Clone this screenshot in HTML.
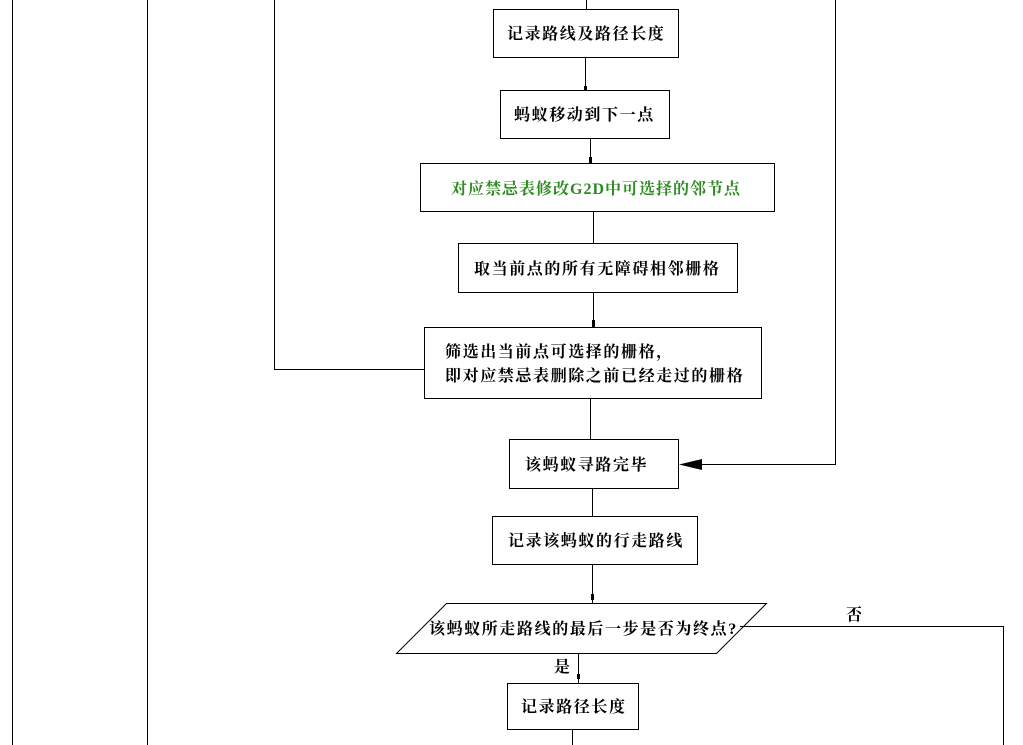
<!DOCTYPE html>
<html><head><meta charset="utf-8"><style>
html,body{margin:0;padding:0;background:#fff;}
svg{display:block}
text{font-family:"Liberation Serif","Noto Serif CJK SC","Noto Sans CJK SC",serif;font-size:16px;font-weight:bold;fill:#000;letter-spacing:1.6px}
</style></head><body>
<svg width="1023" height="745" viewBox="0 0 1023 745" xmlns="http://www.w3.org/2000/svg">
<g stroke="#000" stroke-width="1" fill="none">
<line x1="12.5" y1="0" x2="12.5" y2="745"/>
<line x1="147.5" y1="0" x2="147.5" y2="745"/>
<polyline points="424,369.5 274.5,369.5 274.5,0"/>
<polyline points="835.5,0 835.5,464.5 700,464.5"/>
<line x1="586.5" y1="0" x2="586.5" y2="9"/>
<line x1="585.5" y1="57" x2="585.5" y2="90"/>
<line x1="590.5" y1="138" x2="590.5" y2="163"/>
<line x1="593.5" y1="211" x2="593.5" y2="243"/>
<line x1="593.5" y1="292" x2="593.5" y2="327"/>
<line x1="590.5" y1="398" x2="590.5" y2="439"/>
<line x1="592.5" y1="488" x2="592.5" y2="516"/>
<line x1="592.5" y1="564" x2="592.5" y2="603"/>
<line x1="578.5" y1="653" x2="578.5" y2="683"/>
<line x1="572.5" y1="729" x2="572.5" y2="745"/>
<polyline points="740,626.5 1003.5,626.5 1003.5,745"/>
<rect x="493.5" y="9.5" width="185" height="48"/>
<rect x="500.5" y="90.5" width="169" height="48"/>
<rect x="420.5" y="163.5" width="354" height="48"/>
<rect x="458.5" y="243.5" width="279" height="49"/>
<rect x="424.5" y="327.5" width="337" height="71"/>
<rect x="509.5" y="439.5" width="169" height="49"/>
<rect x="492.5" y="516.5" width="205" height="48"/>
<polygon points="446.5,603.5 766.5,603.5 716.5,653.5 396.5,653.5"/>
<rect x="507.5" y="683.5" width="131" height="46"/>
</g>
<polygon points="679,464.5 702,459 702,470" fill="#000"/>
<g fill="#000">
<rect x="584" y="86" width="3" height="4"/>
<rect x="589" y="157" width="3" height="6"/>
<rect x="592" y="320" width="3" height="7"/>
<rect x="591" y="594" width="3" height="6"/>
<rect x="577" y="674" width="3" height="5"/>
</g>
<text x="507" y="39">记录路线及路径长度</text>
<text x="514" y="120">蚂蚁移动到下一点</text>
<text x="451" y="194" style="fill:#2e8b22;letter-spacing:1px">对应禁忌表修改G2D中可选择的邻节点</text>
<text x="474" y="274">取当前点的所有无障碍相邻栅格</text>
<text x="445" y="357">筛选出当前点可选择的栅格，</text>
<text x="445" y="381">即对应禁忌表删除之前已经走过的栅格</text>
<text x="525" y="470">该蚂蚁寻路完毕</text>
<text x="508" y="546">记录该蚂蚁的行走路线</text>
<text x="429" y="634">该蚂蚁所走路线的最后一步是否为终点?</text>
<text x="846" y="620">否</text>
<text x="554" y="672">是</text>
<text x="521" y="712">记录路径长度</text>
</svg>
</body></html>
